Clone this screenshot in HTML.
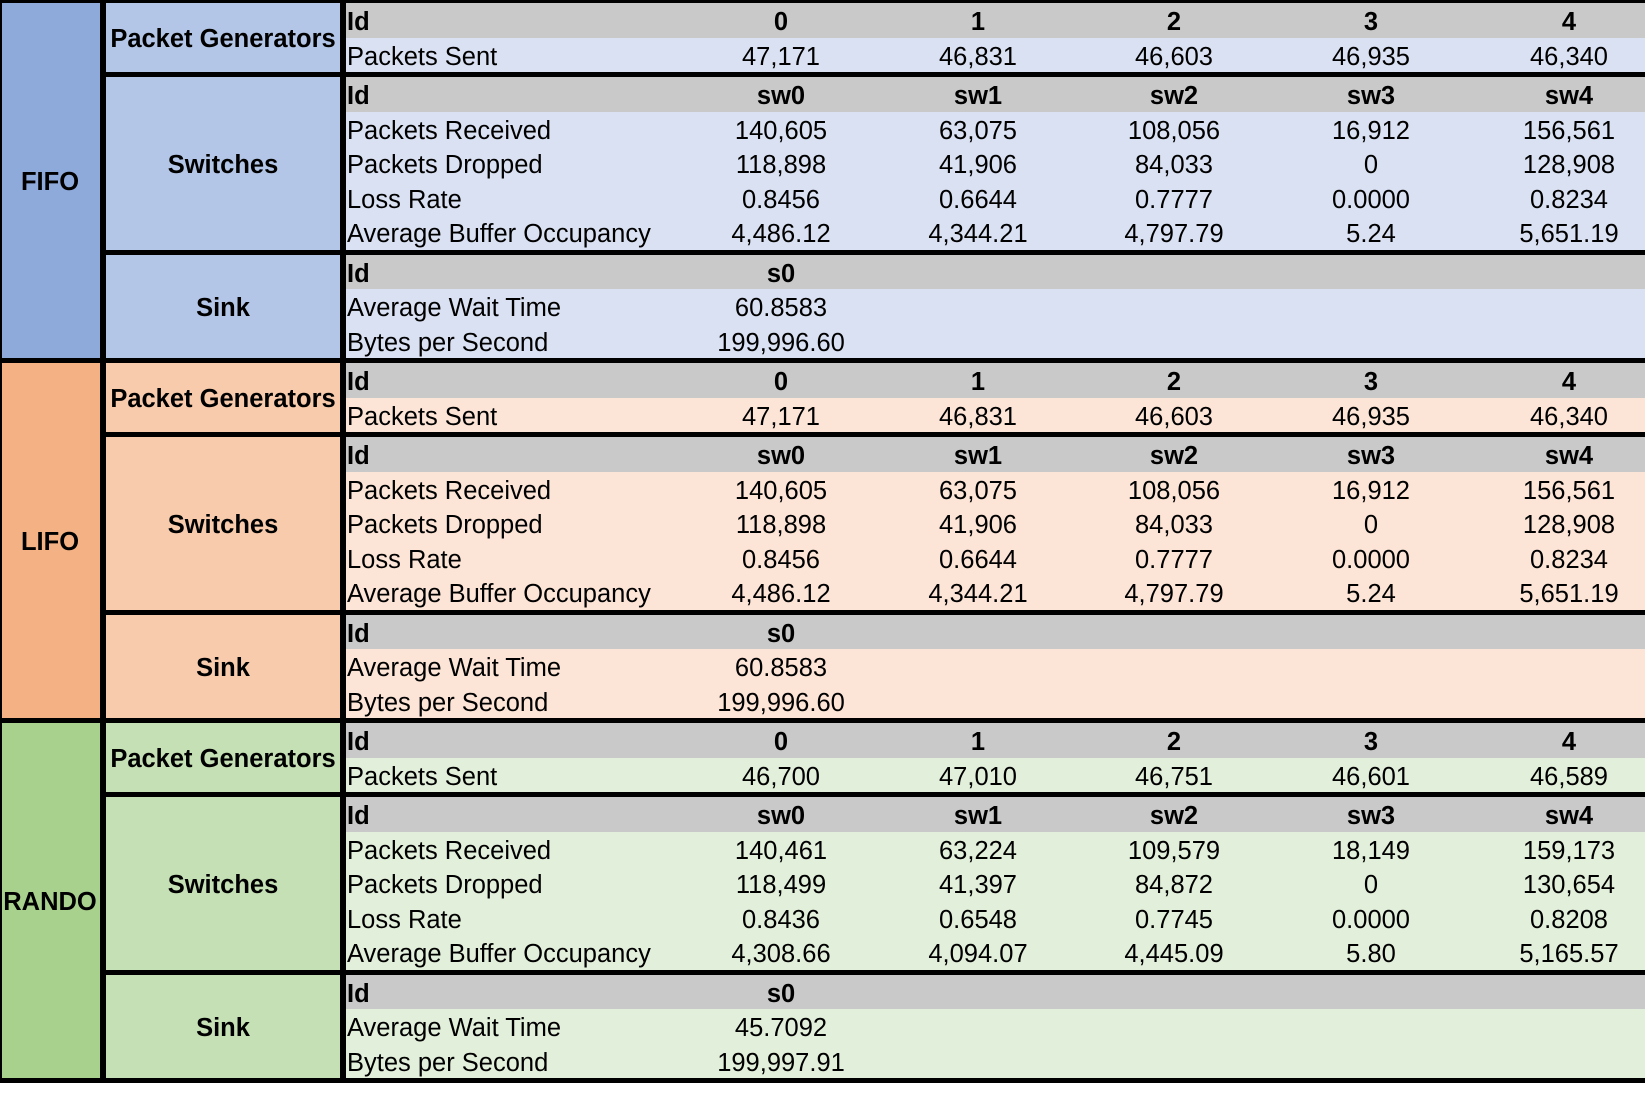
<!DOCTYPE html>
<html><head><meta charset="utf-8">
<style>
html,body{margin:0;padding:0;background:#fff;}
#wrap{position:relative;width:1645px;height:1104px;overflow:hidden;font-family:"Liberation Sans",Arial,sans-serif;}
.a{position:absolute;box-sizing:border-box;white-space:nowrap;}
.t{font-size:25.5px;color:#000;}
.b{font-weight:bold;}
</style></head>
<body>
<div id="wrap"></div>
<script>
const policies = ["FIFO","LIFO","RANDO"];
const genIds = ["0","1","2","3","4"];
const swIds = ["sw0","sw1","sw2","sw3","sw4"];
const packetsSent = [["47,171","46,831","46,603","46,935","46,340"],["47,171","46,831","46,603","46,935","46,340"],["46,700","47,010","46,751","46,601","46,589"]];
const packetsReceived = [["140,605","63,075","108,056","16,912","156,561"],["140,605","63,075","108,056","16,912","156,561"],["140,461","63,224","109,579","18,149","159,173"]];
const packetsDropped = [["118,898","41,906","84,033","0","128,908"],["118,898","41,906","84,033","0","128,908"],["118,499","41,397","84,872","0","130,654"]];
const lossRate = [["0.8456","0.6644","0.7777","0.0000","0.8234"],["0.8456","0.6644","0.7777","0.0000","0.8234"],["0.8436","0.6548","0.7745","0.0000","0.8208"]];
const avgBuffer = [["4,486.12","4,344.21","4,797.79","5.24","5,651.19"],["4,486.12","4,344.21","4,797.79","5.24","5,651.19"],["4,308.66","4,094.07","4,445.09","5.80","5,165.57"]];
const sinkIds = ["s0"];
const avgWait = [["60.8583"],["60.8583"],["45.7092"]];
const bytesPerSec = [["199,996.60"],["199,996.60"],["199,997.91"]];
const colors = [["#8eaadb","#b4c6e7","#d9e1f2"],["#f4b183","#f8cbad","#fce4d6"],["#a9d18e","#c5e0b4","#e2efda"]];

const W = document.getElementById('wrap');
function box(x,y,w,h,bg,name){
  const d=document.createElement('div');d.className='a';
  d.style.left=x+'px';d.style.top=y+'px';d.style.width=w+'px';d.style.height=h+'px';
  if(bg)d.style.background=bg;
  
  
  W.appendChild(d);return d;
}
function txt(x,y,h,s,bold,align,name,w){
  const d=document.createElement('div');d.className='a t'+(bold?' b':'');
  d.textContent=s;d.style.top=y+'px';d.style.height=h+'px';d.style.lineHeight=(h+4)+'px';
  if(align==='c'){d.style.left=(x-(w||200)/2)+'px';d.style.width=(w||200)+'px';d.style.textAlign='center';}
  else d.style.left=x+'px';
  
  
  W.appendChild(d);return d;
}
box(0,0,1645,1083,'#000','table-grid');
const R=34.5, B=5, colX=[781,978,1174,1371,1569];
policies.forEach((p,pi)=>{
  const top=3+pi*360;
  const c=colors[pi];
  box(2,top,98,355,c[0],'policy-cell');
  txt(50,top,355,p,true,'c','policy-label',100);
  const sections=[
    {name:'Packet Generators',ids:genIds,rows:[['Packets Sent',packetsSent[pi]]]},
    {name:'Switches',ids:swIds,rows:[['Packets Received',packetsReceived[pi]],['Packets Dropped',packetsDropped[pi]],['Loss Rate',lossRate[pi]],['Average Buffer Occupancy',avgBuffer[pi]]]},
    {name:'Sink',ids:sinkIds,rows:[['Average Wait Time',avgWait[pi]],['Bytes per Second',bytesPerSec[pi]]]}
  ];
  let y=top;
  sections.forEach(s=>{
    const n=s.rows.length+1, h=n*R;
    box(106,y,234,h,c[1],'section-cell');
    txt(223,y,h,s.name,true,'c','section-label',240);
    box(346,y,1299,R,'#c9c9c9','id-row');
    txt(347,y,R,'Id',true,'l','id-label');
    s.ids.forEach((id,i)=>txt(colX[i],y,R,id,true,'c','id-value'));
    s.rows.forEach((r,ri)=>{
      const ry=y+R*(ri+1);
      box(346,ry,1299,R,c[2],'data-row');
      txt(347,ry,R,r[0],false,'l','row-label');
      r[1].forEach((v,i)=>txt(colX[i],ry,R,v,false,'c','cell-value'));
    });
    y+=h+B;
  });
});
</script>
</body></html>
